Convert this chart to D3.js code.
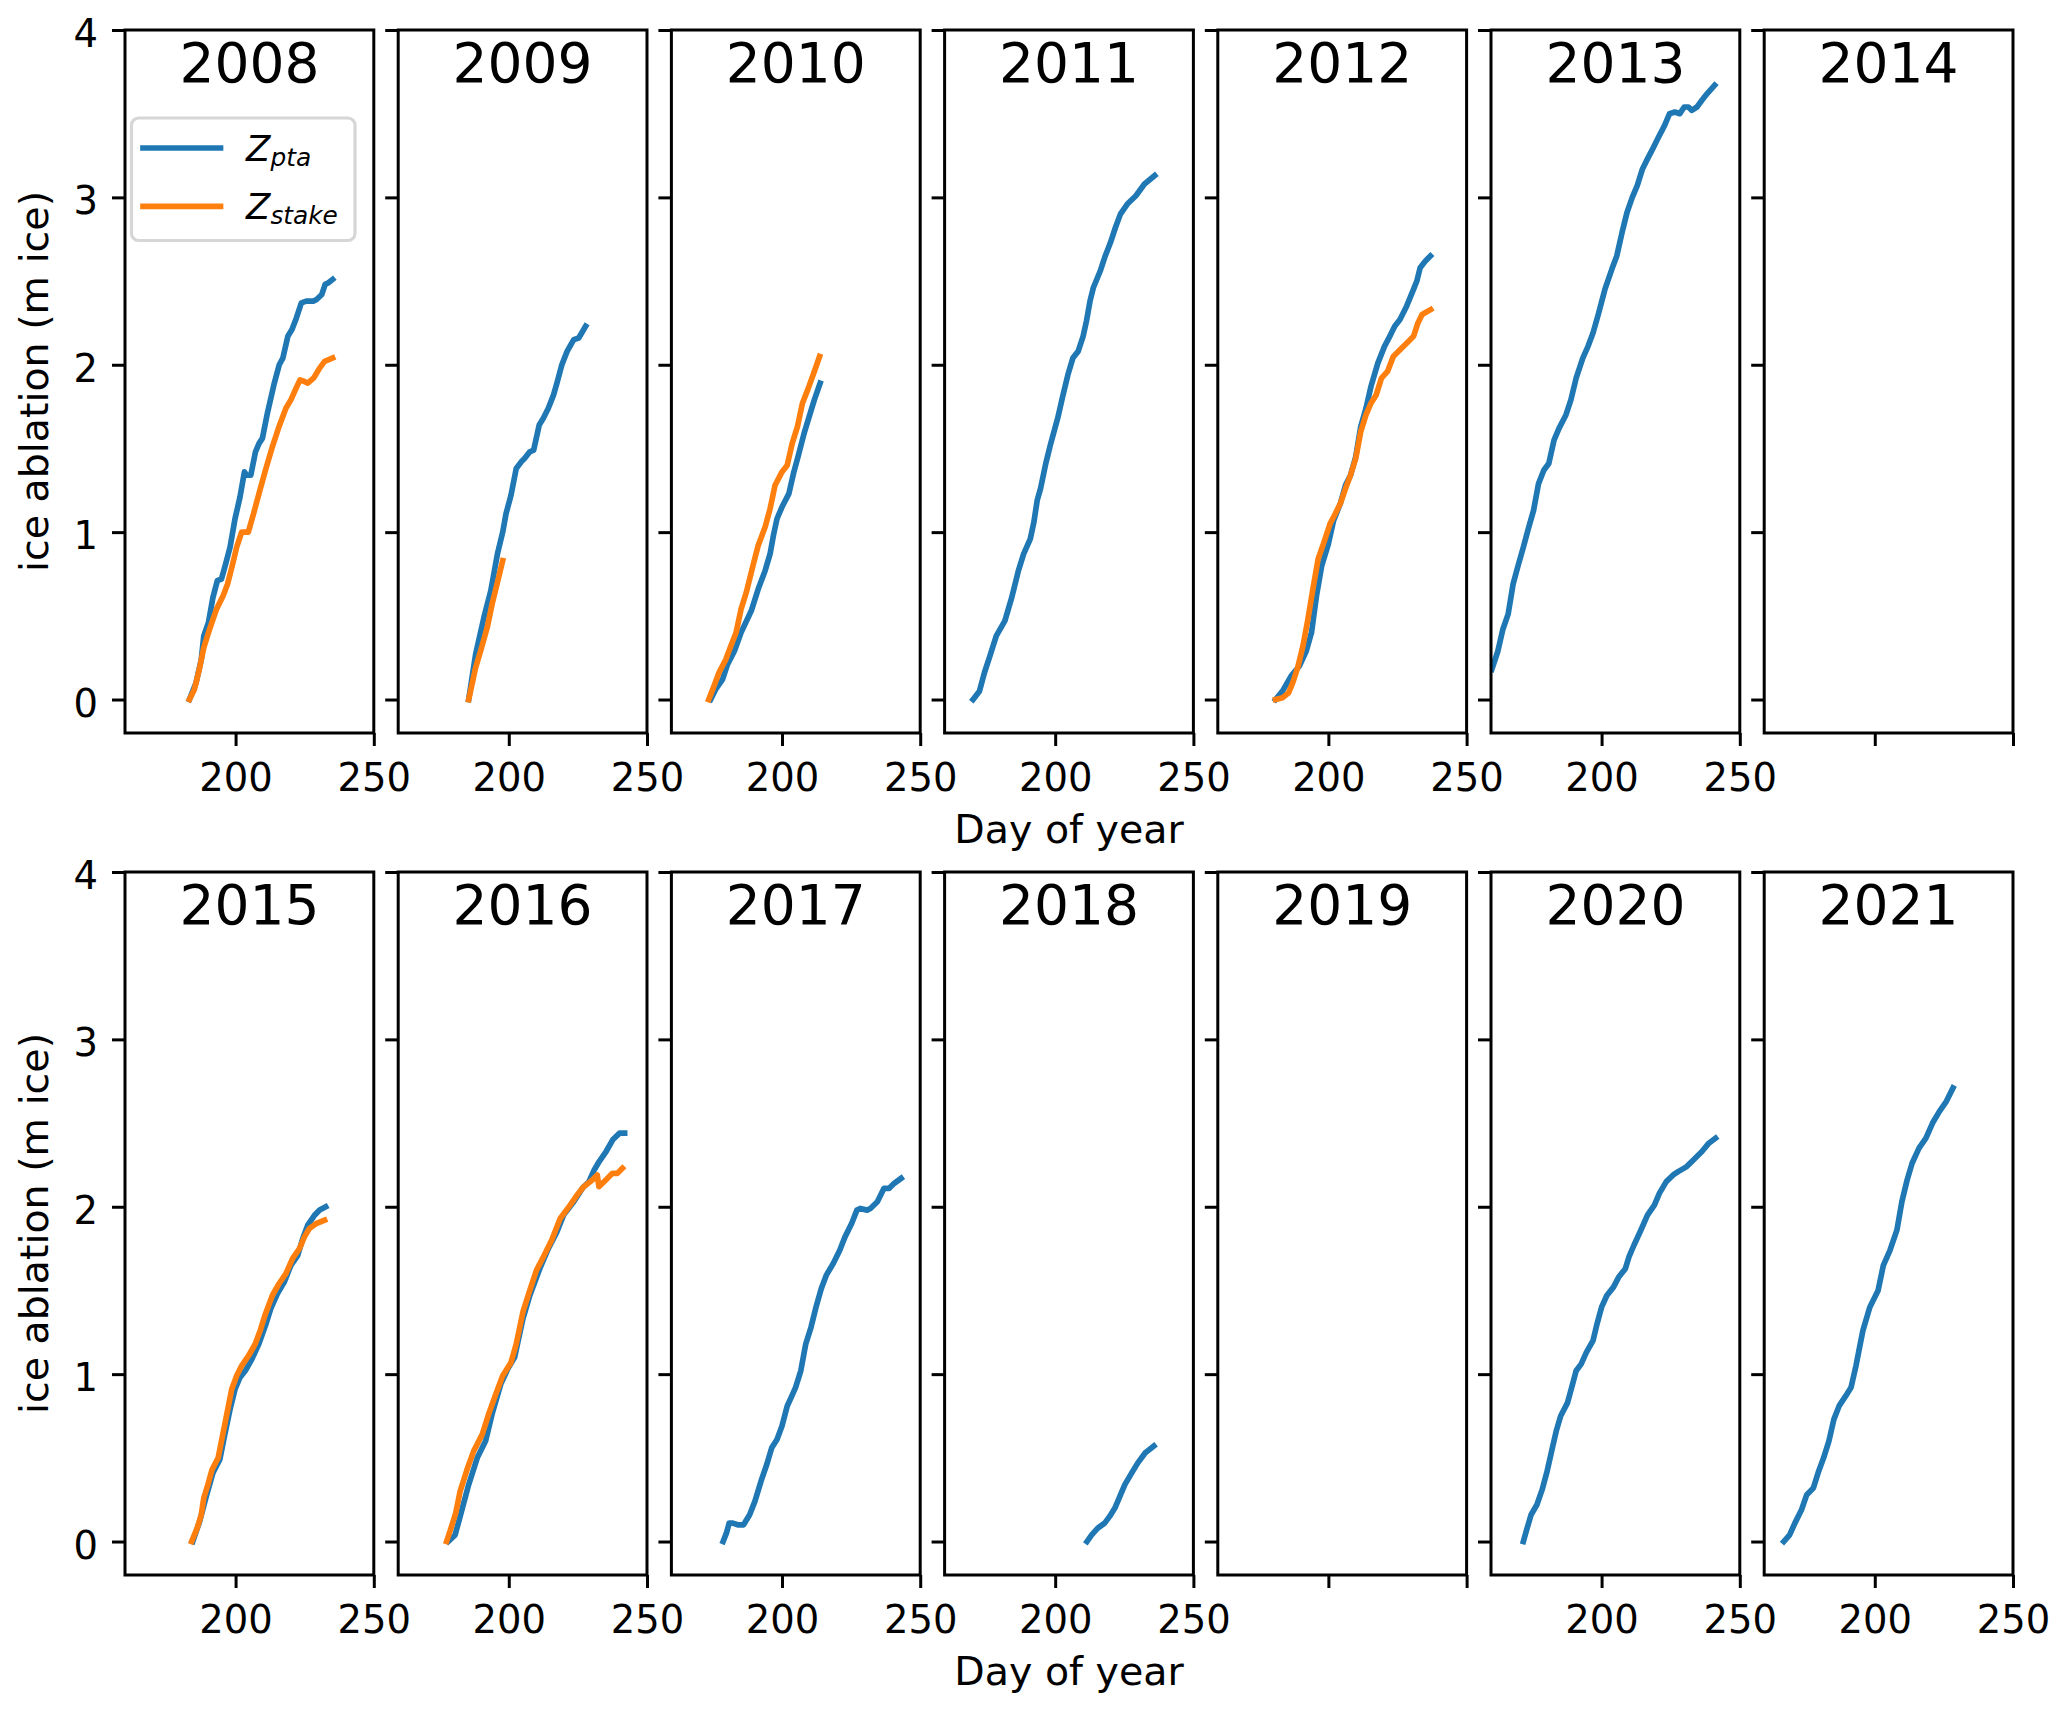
<!DOCTYPE html>
<html><head><meta charset="utf-8">
<script src="https://cdn.jsdelivr.net/npm/d3@7"></script>
<style>body{margin:0;background:#fff}svg{display:block}</style>
</head><body>
<svg id="chart" width="2067" height="1714"></svg>
<script>
// ---------------- data ----------------
const yearsRow1 = ["2008","2009","2010","2011","2012","2013","2014"];
const yearsRow2 = ["2015","2016","2017","2018","2019","2020","2021"];
const xTicks = [200, 250];
const yTicks = [0, 1, 2, 3, 4];
const xDomain = [160, 250];
const yDomain = [-0.2, 4];
const seriesNames = ["Z_pta", "Z_stake"];

const pta2008 = [[183.3,0],[185.7,0.10],[187.6,0.24],[188.5,0.38],[190.2,0.46],[191.8,0.61],[193.4,0.71],[194.9,0.72],[196.4,0.81],[198.0,0.91],[199.8,1.08],[201.6,1.21],[203.2,1.36],[204.0,1.34],[205.5,1.34],[207.2,1.48],[208.5,1.53],[209.7,1.56],[211.5,1.71],[214.0,1.89],[215.8,2.00],[217.1,2.04],[218.9,2.17],[220.4,2.21],[222.0,2.28],[223.8,2.37],[225.6,2.38],[228.1,2.38],[229.3,2.39],[231.2,2.42],[232.4,2.48],[233.6,2.49],[235.1,2.51]];
const stake2008 = [[183.3,0],[185.1,0.06],[187.0,0.19],[188.5,0.31],[190.6,0.42],[193.1,0.54],[195.5,0.62],[197.1,0.69],[198.8,0.80],[200.4,0.91],[202.2,1.00],[204.6,1.00],[206.5,1.11],[208.3,1.22],[210.8,1.37],[213.3,1.51],[215.7,1.63],[218.2,1.74],[220.0,1.79],[221.9,1.86],[223.3,1.91],[224.9,1.90],[226.1,1.89],[228.2,1.92],[230.4,1.98],[232.2,2.02],[235.1,2.04]];
const pta2009 = [[185.5,0],[188.0,0.27],[191.0,0.49],[193.5,0.65],[195.9,0.87],[197.8,1.00],[199.0,1.11],[200.8,1.22],[202.7,1.38],[204.5,1.42],[205.7,1.44],[207.6,1.48],[209.0,1.49],[211.0,1.64],[212.5,1.68],[214.3,1.74],[216.2,1.82],[217.4,1.89],[219.2,2.00],[221.1,2.08],[223.5,2.15],[225.3,2.16],[227.8,2.23]];
const stake2009 = [[185.5,0],[188.0,0.19],[189.8,0.29],[192.2,0.43],[194.1,0.58],[195.9,0.70],[197.8,0.83]];
const pta2010 = [[174.2,0],[176.0,0.06],[178.5,0.12],[180.3,0.21],[182.8,0.29],[185.2,0.40],[188.9,0.53],[191.4,0.66],[193.9,0.77],[195.7,0.87],[196.9,0.98],[198.2,1.08],[200.0,1.15],[202.5,1.23],[204.3,1.36],[205.8,1.45],[208.0,1.59],[210.2,1.71],[211.7,1.79],[213.8,1.89]];
const stake2010 = [[173.5,0],[175.4,0.08],[177.2,0.16],[179.7,0.24],[181.5,0.32],[183.4,0.40],[185.2,0.54],[187.1,0.64],[189.5,0.80],[191.4,0.92],[193.9,1.03],[195.7,1.14],[197.5,1.28],[200.0,1.36],[201.9,1.40],[203.7,1.53],[205.6,1.63],[207.4,1.77],[209.3,1.85],[211.7,1.96],[213.6,2.05]];
const pta2011 = [[170.3,0],[172.6,0.05],[174.4,0.16],[176.2,0.25],[178.7,0.38],[181.8,0.47],[184.3,0.61],[186.7,0.77],[188.6,0.87],[191.0,0.96],[192.3,1.06],[193.5,1.19],[194.7,1.26],[196.6,1.41],[198.4,1.53],[200.9,1.68],[202.7,1.81],[204.6,1.94],[206.4,2.04],[208.3,2.08],[210.1,2.17],[211.3,2.26],[212.6,2.38],[213.8,2.46],[216.3,2.56],[218.1,2.65],[220.0,2.73],[221.8,2.82],[223.6,2.90],[226.1,2.96],[229.2,3.01],[232.3,3.08],[236.0,3.13]];
const pta2012 = [[180.9,0],[183.4,0.05],[186.5,0.14],[189.5,0.20],[192.0,0.29],[193.9,0.40],[195.7,0.62],[197.6,0.80],[200.0,0.93],[201.9,1.07],[204.3,1.17],[206.2,1.28],[208.0,1.34],[209.9,1.45],[211.7,1.63],[213.6,1.74],[215.4,1.87],[217.9,2.01],[220.3,2.11],[222.2,2.17],[224.0,2.23],[225.9,2.27],[228.3,2.35],[230.8,2.45],[232.0,2.50],[233.2,2.58],[235.1,2.62],[236.9,2.65]];
const stake2012 = [[180.9,0],[183.4,0.01],[185.6,0.04],[187.1,0.10],[188.9,0.19],[190.8,0.32],[192.6,0.48],[194.5,0.67],[196.3,0.84],[198.2,0.93],[200.6,1.05],[202.5,1.11],[204.3,1.17],[206.2,1.26],[208.0,1.34],[209.9,1.44],[211.7,1.60],[213.6,1.70],[215.4,1.77],[217.3,1.82],[219.2,1.92],[221.4,1.96],[223.5,2.05],[225.9,2.09],[228.4,2.13],[230.8,2.17],[232.4,2.25],[233.9,2.30],[237.0,2.33]];
const pta2013 = [[160.3,0.18],[162.5,0.29],[164.3,0.42],[166.2,0.51],[168.0,0.69],[169.8,0.80],[171.7,0.91],[173.5,1.02],[175.4,1.13],[177.2,1.29],[179.1,1.37],[180.9,1.41],[182.8,1.55],[184.6,1.62],[187.1,1.70],[188.9,1.79],[190.8,1.92],[193.2,2.04],[195.1,2.11],[196.9,2.19],[198.8,2.30],[201.2,2.45],[203.7,2.57],[205.5,2.65],[207.4,2.79],[209.2,2.91],[211.1,3.00],[212.9,3.07],[214.8,3.17],[216.6,3.23],[218.5,3.29],[220.3,3.35],[222.8,3.43],[224.6,3.50],[226.5,3.51],[228.3,3.50],[229.9,3.54],[231.4,3.54],[232.6,3.52],[234.5,3.54],[236.3,3.58],[238.2,3.62],[240.9,3.67]];
const pta2015 = [[184.5,0],[187.0,0.12],[189.4,0.27],[191.8,0.41],[194.3,0.49],[196.1,0.64],[198.0,0.79],[199.8,0.91],[201.6,0.98],[203.5,1.02],[205.9,1.09],[208.4,1.18],[210.8,1.29],[212.7,1.39],[215.1,1.48],[217.6,1.55],[220.0,1.65],[222.5,1.71],[224.3,1.81],[226.1,1.89],[228.6,1.95],[230.4,1.98],[232.6,2.00]];
const stake2015 = [[184.1,0],[186.1,0.08],[187.6,0.16],[188.5,0.26],[190.0,0.34],[191.5,0.43],[193.7,0.50],[195.5,0.65],[197.3,0.80],[198.6,0.91],[200.4,0.99],[202.2,1.05],[204.7,1.11],[207.1,1.18],[208.9,1.26],[210.8,1.36],[213.3,1.47],[215.7,1.54],[218.2,1.60],[220.6,1.69],[223.1,1.75],[224.9,1.82],[226.7,1.87],[229.2,1.90],[232.2,1.92]];
const pta2016 = [[178.1,0],[180.6,0.04],[182.4,0.15],[185.5,0.34],[188.6,0.50],[191.6,0.60],[194.1,0.77],[197.1,0.94],[199.6,1.03],[202.1,1.10],[205.1,1.33],[207.6,1.47],[211.2,1.63],[214.3,1.75],[217.4,1.85],[219.8,1.95],[223.5,2.03],[226.6,2.11],[229.0,2.15],[230.9,2.22],[232.7,2.27],[235.2,2.33],[237.6,2.40],[240.1,2.44],[241.9,2.44]];
const stake2016 = [[177.5,0],[179.1,0.08],[180.8,0.17],[182.4,0.30],[184.9,0.43],[187.3,0.54],[190.4,0.64],[192.9,0.77],[195.3,0.88],[197.8,0.99],[200.8,1.07],[202.7,1.18],[205.1,1.37],[207.6,1.50],[210.0,1.62],[212.5,1.70],[215.5,1.80],[218.6,1.93],[222.2,2.01],[224.7,2.07],[227.1,2.12],[230.2,2.16],[232.0,2.19],[232.6,2.12],[235.1,2.16],[237.5,2.20],[239.3,2.20],[241.1,2.23]];
const pta2017 = [[178.7,0],[179.9,0.05],[180.9,0.11],[182.2,0.11],[184.0,0.10],[186.1,0.10],[188.3,0.16],[190.2,0.24],[192.6,0.37],[194.5,0.46],[196.3,0.56],[198.2,0.61],[200.0,0.69],[201.9,0.81],[203.3,0.86],[204.9,0.92],[206.8,1.02],[208.6,1.18],[210.5,1.28],[212.3,1.40],[214.2,1.51],[216.0,1.59],[218.5,1.66],[220.9,1.74],[222.8,1.82],[225.2,1.90],[227.1,1.98],[228.3,1.99],[230.8,1.98],[232.0,1.99],[234.5,2.03],[236.9,2.11],[238.8,2.11],[240.6,2.14],[243.1,2.17]];
const pta2018 = [[211.5,0],[213.2,0.04],[215.4,0.08],[217.9,0.11],[219.7,0.15],[221.6,0.20],[223.4,0.27],[225.2,0.34],[227.7,0.41],[229.9,0.47],[232.6,0.53],[235.7,0.57]];
const pta2020 = [[171.7,0],[172.9,0.07],[174.5,0.16],[176.6,0.22],[178.5,0.31],[180.3,0.42],[182.2,0.56],[183.6,0.66],[185.2,0.75],[187.7,0.83],[189.5,0.94],[190.8,1.02],[192.6,1.06],[194.5,1.13],[196.9,1.20],[198.2,1.29],[200.0,1.40],[201.9,1.47],[204.3,1.52],[206.2,1.58],[208.6,1.63],[209.9,1.70],[211.7,1.77],[214.2,1.86],[216.6,1.95],[219.1,2.01],[220.9,2.08],[223.4,2.15],[225.9,2.19],[227.7,2.21],[230.8,2.24],[233.2,2.28],[236.3,2.33],[238.8,2.38],[241.2,2.41]];
const pta2021 = [[167.1,0],[169.2,0.04],[171.1,0.11],[173.5,0.19],[175.4,0.28],[177.8,0.32],[179.7,0.42],[181.5,0.50],[183.4,0.60],[185.2,0.73],[187.1,0.81],[189.5,0.87],[191.4,0.92],[193.2,1.05],[194.5,1.16],[195.7,1.26],[198.2,1.40],[201.2,1.50],[203.1,1.65],[205.5,1.74],[208.0,1.86],[209.8,2.03],[211.7,2.16],[213.5,2.26],[216.0,2.35],[218.5,2.41],[220.9,2.50],[223.4,2.57],[225.9,2.63],[228.3,2.71]];

// table built from the arrays above
const ptaByYear = {"2008":pta2008,"2009":pta2009,"2010":pta2010,"2011":pta2011,"2012":pta2012,"2013":pta2013,
  "2015":pta2015,"2016":pta2016,"2017":pta2017,"2018":pta2018,"2020":pta2020,"2021":pta2021};
const stakeByYear = {"2008":stake2008,"2009":stake2009,"2010":stake2010,"2012":stake2012,"2015":stake2015,"2016":stake2016};

// ---------------- layout / style ----------------
const COLORS = ["#1f77b4", "#ff7f0e"];
const FONT = "'DejaVu Sans', sans-serif";
const left0 = 125, pitch = 273.2, panelW = 248.8, panelH = 703;
const rowTops = [30, 872];
const tickLen = 13, lw = 5.7, spineW = 3;
const tickFont = 38.5, labelFont = 39.5, titleFont = 55;

const svg = d3.select("#chart");
svg.append("rect").attr("width",2067).attr("height",1714).attr("fill","#fff");

const x = d3.scaleLinear().domain(xDomain).range([0, panelW]);
const y = d3.scaleLinear().domain(yDomain).range([panelH, 0]);
const line = d3.line().x(d => x(d[0])).y(d => y(d[1]));

[yearsRow1, yearsRow2].forEach((yrs, r) => {
  yrs.forEach((yr, c) => {
    const g = svg.append("g").attr("transform", `translate(${left0 + c*pitch},${rowTops[r]})`);
    const clipId = `clip-${yr}`;
    g.append("clipPath").attr("id", clipId).append("rect").attr("width", panelW).attr("height", panelH);
    const hasData = !!ptaByYear[yr];
    const lines = g.append("g").attr("clip-path", `url(#${clipId})`);
    [ptaByYear[yr], stakeByYear[yr]].forEach((s, i) => {
      if (!s) return;
      lines.append("path").attr("d", line(s)).attr("fill","none")
        .attr("stroke", COLORS[i]).attr("stroke-width", lw)
        .attr("stroke-linejoin","round").attr("stroke-linecap","square");
    });

    // x axis
    const xa = g.append("g").attr("transform", `translate(0,${panelH})`)
      .call(d3.axisBottom(x).tickValues(xTicks).tickSize(tickLen).tickSizeOuter(0).tickPadding(17.5)
        .tickFormat(hasData ? d3.format("d") : () => ""));
    // y axis
    const ya = g.append("g")
      .call(d3.axisLeft(y).tickValues(yTicks).tickSize(tickLen).tickSizeOuter(0).tickPadding(14)
        .tickFormat(c === 0 ? d3.format("d") : () => ""));
    [xa, ya].forEach(a => {
      a.select(".domain").remove();
      a.selectAll(".tick line").attr("stroke","#000").attr("stroke-width", spineW);
      a.selectAll(".tick text").attr("fill","#000").style("font-family", FONT).style("font-size", tickFont+"px");
    });
    ya.selectAll(".tick text").attr("dy","0.43em");
    xa.selectAll(".tick text").attr("dy","0.71em");

    // frame
    g.append("rect").attr("width", panelW).attr("height", panelH)
      .attr("fill","none").attr("stroke","#000").attr("stroke-width", spineW);

    // title
    g.append("text").attr("x", panelW/2).attr("y", 52).attr("text-anchor","middle")
      .style("font-family", FONT).style("font-size", titleFont+"px").text(yr);

    // legend
    if (r === 0 && c === 0) {
      const lg = g.append("g").attr("transform","translate(6.5,88)");
      lg.append("rect").attr("width",223.5).attr("height",122.5).attr("rx",7).attr("ry",7)
        .attr("fill","#fff").attr("fill-opacity",0.8).attr("stroke","#d6d6d6").attr("stroke-width",3.2);
      const subs = ["pta","stake"];
      subs.forEach((sub, i) => {
        const yy = 30 + i*58.4;
        lg.append("line").attr("x1",11.5).attr("x2",89).attr("y1",yy).attr("y2",yy)
          .attr("stroke", COLORS[i]).attr("stroke-width", lw).attr("stroke-linecap","square");
        const t = lg.append("text").attr("x",114.6).attr("y",yy+12.8)
          .style("font-family", FONT).style("font-style","italic").style("font-size","35.5px");
        t.append("tspan").text("Z");
        t.append("tspan").attr("dy",5).style("font-size","24.8px").text(sub);
      });
    }
  });
  // y label
  const cy = rowTops[r] + panelH/2;
  svg.append("text").attr("transform", `translate(48,${cy}) rotate(-90)`).attr("text-anchor","middle")
    .style("font-family", FONT).style("font-size", labelFont+"px").text("ice ablation (m ice)");
  // x label
  svg.append("text").attr("x", left0 + (6*pitch + panelW)/2).attr("y", rowTops[r] + panelH + 110)
    .attr("text-anchor","middle").style("font-family", FONT).style("font-size", labelFont+"px").text("Day of year");
});
</script>
</body></html>
